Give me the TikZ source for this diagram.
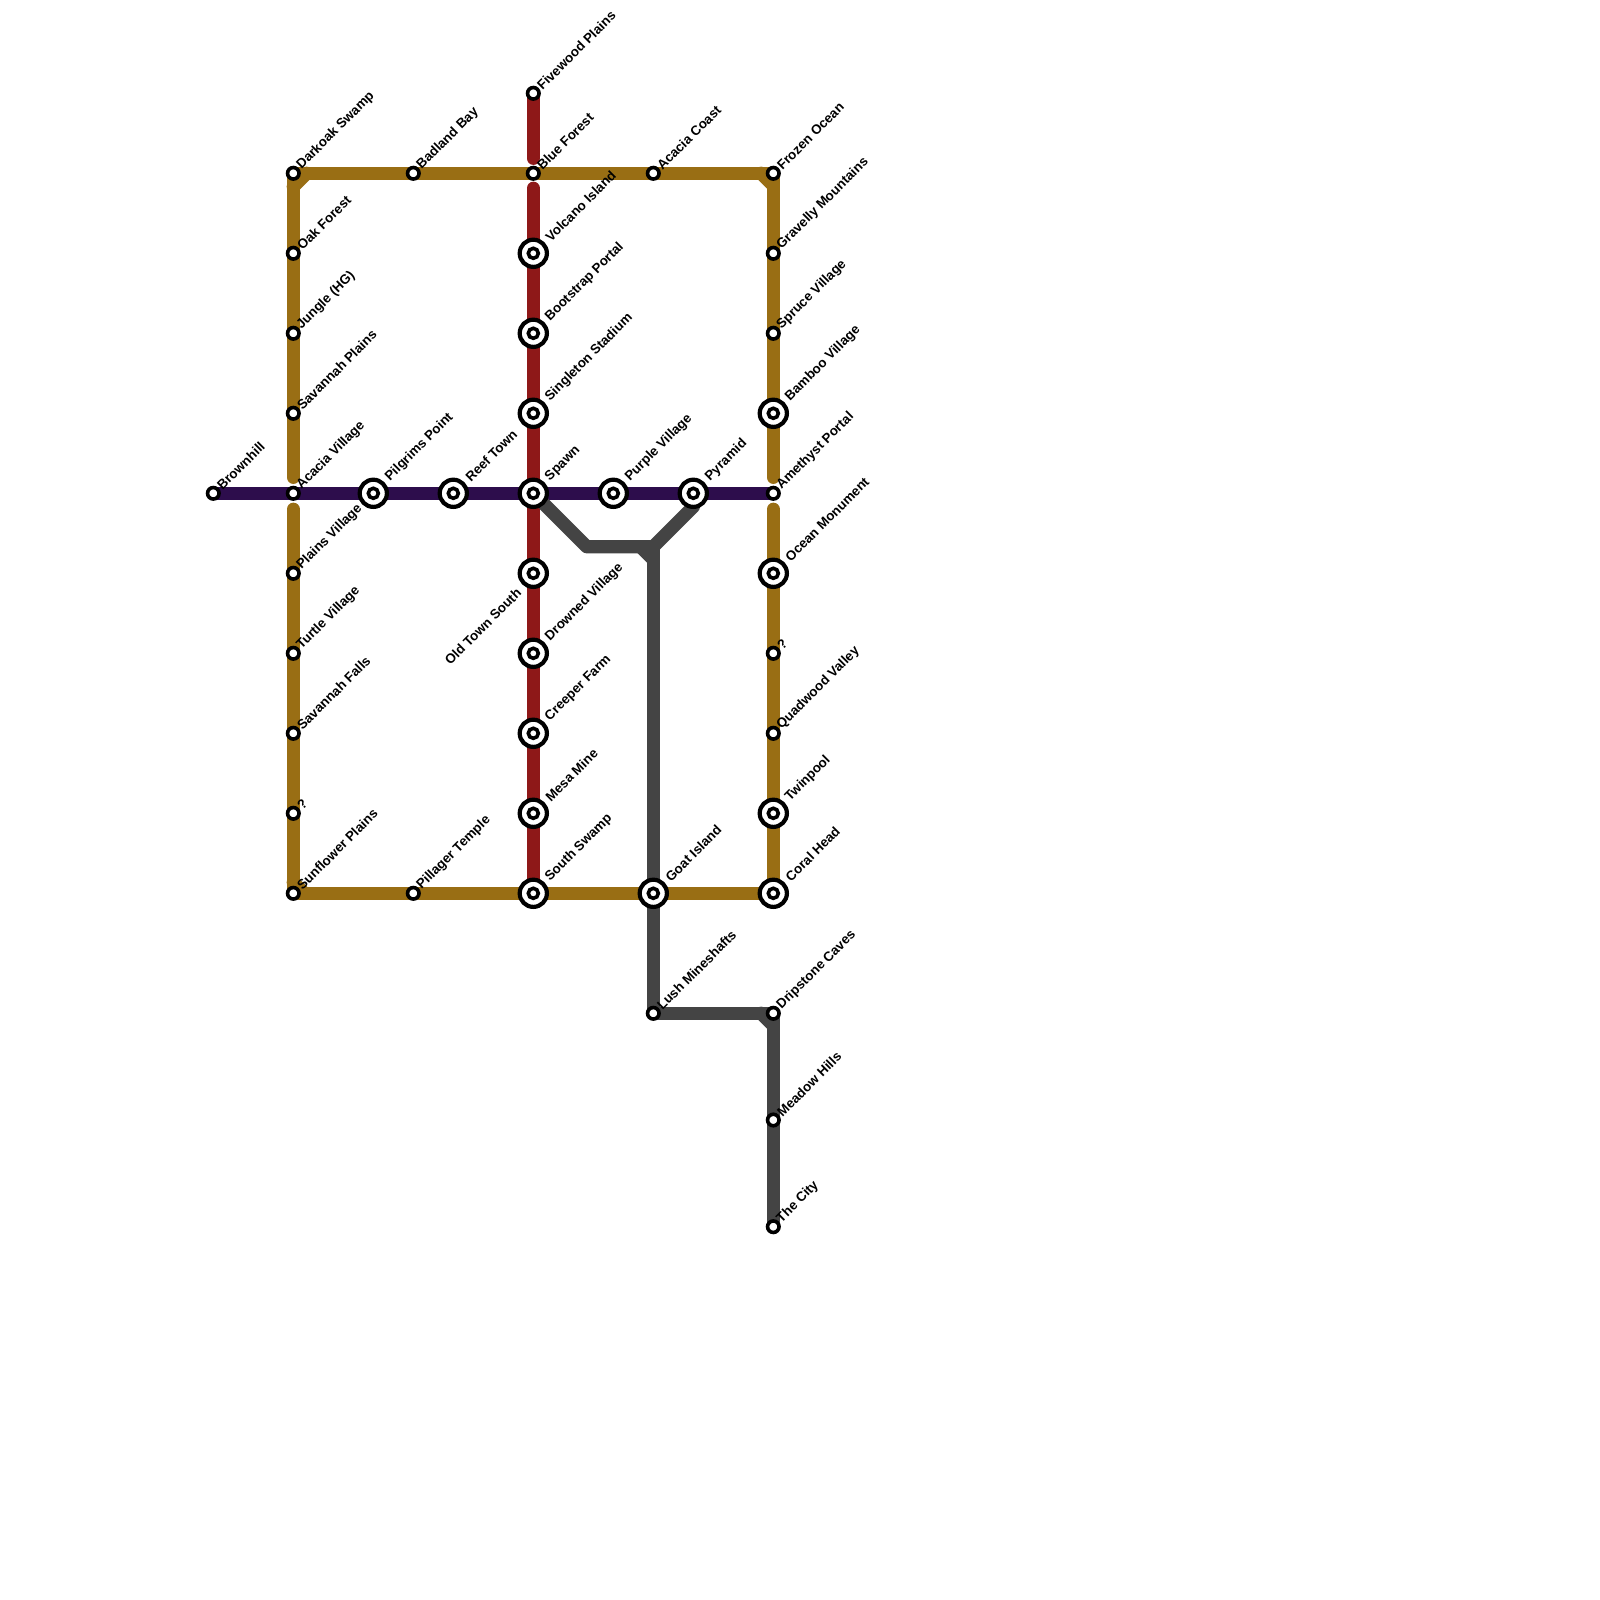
\documentclass[tikz,border=0pt]{standalone}
\usepackage{fontspec}
\setmainfont{Liberation Sans}
\usetikzlibrary{
  arrows.meta,
  positioning,
  calc,
  backgrounds
}
\definecolor{linebrown}{HTML}{996E14}
\definecolor{linered}{HTML}{8E1818}
\definecolor{linepurple}{HTML}{2D0D4C}
\definecolor{linegrey}{HTML}{444444}

\begin{document}
\begin{tikzpicture}[
      stop/.style={circle, draw=black, fill=white, line width=.036cm,
                   minimum size=.115cm, inner sep=0pt, outer sep=0pt},
      hub/.style={circle, draw=black, fill=white, line width=.042cm,
                  minimum size=.272cm, inner sep=0pt, outer sep=0pt,
                  path picture={\draw[line width=.036cm] (path picture bounding box.center) circle (.05cm);}},
      lbl/.style={rotate=45, anchor=west, inner sep=.02cm,
                  font=\fontsize{3.8}{4.5}\selectfont\bfseries},
      lblhub/.style={xshift=.028cm, yshift=.028cm, lbl},
      lblleft/.style={xshift=-.03cm, yshift=-.06cm, rotate=45, anchor=east, inner sep=.02cm,
                  font=\fontsize{3.8}{4.5}\selectfont\bfseries},
      route/.style={line width=.133cm, line cap=round, line join=round}
  ]
      \useasboundingbox (0,0) rectangle (16,-16);

      % Left side
      \node[stop, label={[lbl]45:Darkoak Swamp}] (darkoak) at (2.933,-1.733) {};
      \node[stop, label={[lbl]45:Oak Forest}] (oakforest) at (2.933,-2.533) {};
      \node[stop, label={[lbl]45:Jungle (HG)}] (jungle) at (2.933,-3.333) {};
      \node[stop, label={[lbl]45:Savannah Plains}] (savplains) at (2.933,-4.133) {};
      \node[stop, label={[lbl]45:Acacia Village}] (acaciavillage) at (2.933,-4.933) {};
      \node[stop, label={[lbl]45:Plains Village}] (plains) at (2.933,-5.733) {};
      \node[stop, label={[lbl]45:Turtle Village}] (turtle) at (2.933,-6.533) {};
      \node[stop, label={[lbl]45:Savannah Falls}] (savfalls) at (2.933,-7.333) {};
      \node[stop, label={[lbl]45:?}] (unknownleft) at (2.933,-8.133) {};
      \node[stop, label={[lbl]45:Sunflower Plains}] (sunflower) at (2.933,-8.933) {};

      % Top and bottom
      \node[stop, label={[lbl]45:Badland Bay}] (badland) at (4.133,-1.733) {};
      \node[stop, label={[lbl]45:Acacia Coast}] (acaciacoast) at (6.533,-1.733) {};
      \node[stop, label={[lbl]45:Pillager Temple}] (pillager) at (4.133,-8.933) {};
      \node[hub, label={[lblhub]45:Goat Island}] (goat) at (6.533,-8.933) {};

      % Centre column
      \node[stop, label={[lbl]45:Fivewood Plains}] (fivewood) at (5.333,-.933) {};
      \node[stop, label={[lbl]45:Blue Forest}] (blueforest) at (5.333,-1.733) {};
      \node[hub, label={[lblhub]45:Volcano Island}] (volcano) at (5.333,-2.533) {};
      \node[hub, label={[lblhub]45:Bootstrap Portal}] (bootstrap) at (5.333,-3.333) {};
      \node[hub, label={[lblhub]45:Singleton Stadium}] (singleton) at (5.333,-4.133) {};
      \node[hub, label={[lblhub]45:Spawn}] (spawn) at (5.333,-4.933) {};
      \node[hub, label={[lblleft]225:Old Town South}] (oldtown) at (5.333,-5.733) {};
      \node[hub, label={[lblhub]45:Drowned Village}] (drowned) at (5.333,-6.533) {};
      \node[hub, label={[lblhub]45:Creeper Farm}] (creeper) at (5.333,-7.333) {};
      \node[hub, label={[lblhub]45:Mesa Mine}] (mesa) at (5.333,-8.133) {};
      \node[hub, label={[lblhub]45:South Swamp}] (southswamp) at (5.333,-8.933) {};

      % Middle row
      \node[stop, label={[lbl]45:Brownhill}] (brownhill) at (2.133,-4.933) {};
      \node[hub, label={[lblhub]45:Pilgrims Point}] (pilgrims) at (3.733,-4.933) {};
      \node[hub, label={[lblhub]45:Reef Town}] (reef) at (4.533,-4.933) {};
      \node[hub, label={[lblhub]45:Purple Village}] (purple) at (6.133,-4.933) {};
      \node[hub, label={[lblhub]45:Pyramid}] (pyramid) at (6.933,-4.933) {};

      % Right side
      \node[stop, label={[lbl]45:Frozen Ocean}] (frozen) at (7.733,-1.733) {};
      \node[stop, label={[lbl]45:Gravelly Mountains}] (gravelly) at (7.733,-2.533) {};
      \node[stop, label={[lbl]45:Spruce Village}] (spruce) at (7.733,-3.333) {};
      \node[hub, label={[lblhub]45:Bamboo Village}] (bamboo) at (7.733,-4.133) {};
      \node[stop, label={[lbl]45:Amethyst Portal}] (amethyst) at (7.733,-4.933) {};
      \node[hub, label={[lblhub]45:Ocean Monument}] (ocean) at (7.733,-5.733) {};
      \node[stop, label={[lbl]45:?}] (unknownright) at (7.733,-6.533) {};
      \node[stop, label={[lbl]45:Quadwood Valley}] (quadwood) at (7.733,-7.333) {};
      \node[hub, label={[lblhub]45:Twinpool}] (twinpool) at (7.733,-8.133) {};
      \node[hub, label={[lblhub]45:Coral Head}] (coral) at (7.733,-8.933) {};

      % Lower branch
      \node[stop, label={[lbl]45:Lush Mineshafts}] (lush) at (6.533,-10.133) {};
      \node[stop, label={[lbl]45:Dripstone Caves}] (dripstone) at (7.733,-10.133) {};
      \node[stop, label={[lbl]45:Meadow Hills}] (meadow) at (7.733,-11.2) {};
      \node[stop, label={[lbl]45:The City}] (thecity) at (7.733,-12.267) {};

      % Bends of the grey line
      \coordinate (spawnbend) at (5.867,-5.467);
      \coordinate (forkleft) at (6.405,-5.467);
      \coordinate (forkright) at (6.533,-5.467);
      \coordinate (forkdown) at (6.533,-5.595);
      \coordinate (pyramidbend) at (6.933,-5.067);

      \begin{scope}[on background layer]
      \fill[white] (0,0) rectangle (16,-16);
      % Red line
      \draw[route, linered, shorten >=.15cm] (fivewood.center) -- (blueforest.center);
      \draw[route, linered, shorten <=.15cm] (blueforest.center) -- (southswamp.center);
      % Brown line
      \draw[route, linebrown] (darkoak.center) -- (frozen.center);
      \draw[route, linebrown, shorten >=.16cm] (darkoak.center) -- (acaciavillage.center);
      \draw[route, linebrown, shorten <=.16cm] (acaciavillage.center) -- (sunflower.center);
      \draw[route, linebrown, shorten >=.16cm] (frozen.center) -- (amethyst.center);
      \draw[route, linebrown, shorten <=.16cm] (amethyst.center) -- (coral.center);
      \draw[route, linebrown] (sunflower.center) -- (coral.center);
      \draw[route, linebrown] ($(darkoak)+(0,-.133)$) -- ($(darkoak)+(.133,0)$);
      \draw[route, linebrown] ($(frozen)+(0,-.122)$) -- ($(frozen)+(-.122,0)$);
      \draw[route, linebrown] ($(sunflower)+(0,.11)$) -- ($(sunflower)+(.11,0)$);
      % Purple line
      \draw[route, linepurple] (brownhill.center) -- (amethyst.center);
      % Grey line
      \draw[route, linegrey] (spawn.center) -- (spawnbend) -- (forkright);
      \draw[route, linegrey] (pyramid.center) -- (pyramidbend) -- (forkright);
      \draw[route, linegrey] (forkleft) -- (forkdown);
      \draw[route, linegrey] (forkright) -- (goat.center) -- (lush.center) -- (dripstone.center) -- (thecity.center);
      \draw[route, linegrey] ($(dripstone)+(-.122,0)$) -- ($(dripstone)+(0,-.122)$);
      \end{scope}
  \end{tikzpicture}
\end{document}
